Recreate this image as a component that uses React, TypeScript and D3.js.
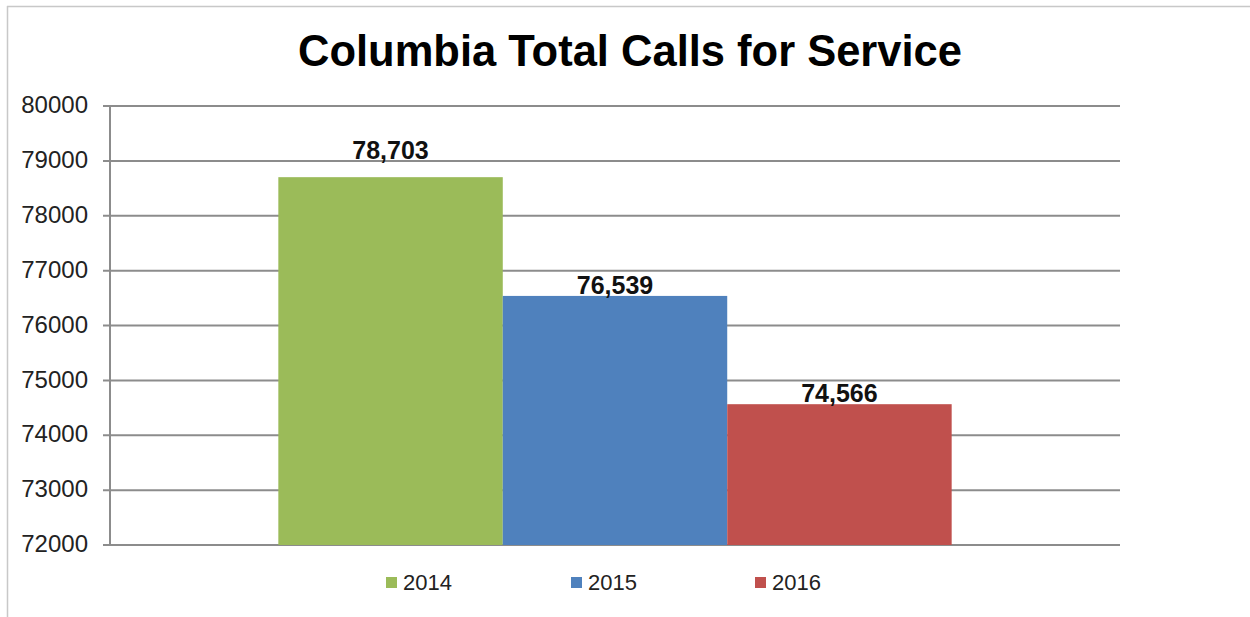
import React from "react";
import * as d3 from "d3";

const categories = ["Total"];
const seriesNames = ["2014", "2015", "2016"];
const seriesValues = [78703, 76539, 74566];
const seriesColors = ["#9BBB59", "#4F81BD", "#C0504D"];
const yTicks = [72000, 73000, 74000, 75000, 76000, 77000, 78000, 79000, 80000];
const title = "Columbia Total Calls for Service";
const labelLift = [18, 2, 2];

const W = 1250;
const H = 617;
const FONT = "'Liberation Sans', Arial, sans-serif";

export default function App() {
  const plotLeft = 110;
  const plotRight = 1120;
  const plotTop = 106;
  const plotBottom = 545;

  const y = d3.scaleLinear().domain([72000, 80000]).range([plotBottom, plotTop]);
  const xCat = d3
    .scaleBand()
    .domain(categories)
    .range([plotLeft, plotRight])
    .paddingInner(0)
    .paddingOuter(0.25);
  const xSeries = d3
    .scaleBand()
    .domain(seriesNames)
    .range([0, xCat.bandwidth()])
    .padding(0);

  const fmt = d3.format(",");
  const legendX = [386, 571, 755];

  return (
    <svg
      width={W}
      height={H}
      style={{ position: "absolute", left: 0, top: 0, background: "#fff" }}
    >
      <rect x={0} y={0} width={W} height={H} fill="#fff" />
      <line x1={7} y1={6.5} x2={W} y2={6.5} stroke="#c8c8c8" strokeWidth={1.5} />
      <line x1={7.5} y1={6} x2={7.5} y2={H} stroke="#c8c8c8" strokeWidth={1.5} />

      <text
        x={630}
        y={66}
        textAnchor="middle"
        fontFamily={FONT}
        fontWeight="bold"
        fontSize={43.5}
        fill="#000"
      >
        {title}
      </text>

      {yTicks.map((t) => (
        <g key={t}>
          <line
            x1={103}
            x2={plotRight}
            y1={y(t)}
            y2={y(t)}
            stroke="#8c8c8c"
            strokeWidth={2}
          />
          <text
            x={88}
            y={y(t)}
            dy="0.3em"
            textAnchor="end"
            fontFamily={FONT}
            fontSize={24}
            fill="#222"
          >
            {t}
          </text>
        </g>
      ))}
      <line
        x1={plotLeft}
        x2={plotLeft}
        y1={plotTop}
        y2={plotBottom}
        stroke="#8c8c8c"
        strokeWidth={2}
      />

      {categories.map((c) =>
        seriesNames.map((s, i) => {
          const x0 = (xCat(c) as number) + (xSeries(s) as number);
          const v = seriesValues[i];
          return (
            <g key={s}>
              <rect
                x={x0}
                y={y(v)}
                width={xSeries.bandwidth()}
                height={plotBottom - y(v)}
                fill={seriesColors[i]}
              />
              <text
                x={x0 + xSeries.bandwidth() / 2}
                y={y(v) - labelLift[i]}
                textAnchor="middle"
                fontFamily={FONT}
                fontWeight="bold"
                fontSize={25}
                fill="#111"
              >
                {fmt(v)}
              </text>
            </g>
          );
        })
      )}

      {seriesNames.map((s, i) => (
        <g key={s}>
          <rect x={legendX[i]} y={577} width={11} height={11} fill={seriesColors[i]} />
          <text
            x={legendX[i] + 17}
            y={582.5}
            dy="0.36em"
            fontFamily={FONT}
            fontSize={22}
            fill="#222"
          >
            {s}
          </text>
        </g>
      ))}
    </svg>
  );
}
